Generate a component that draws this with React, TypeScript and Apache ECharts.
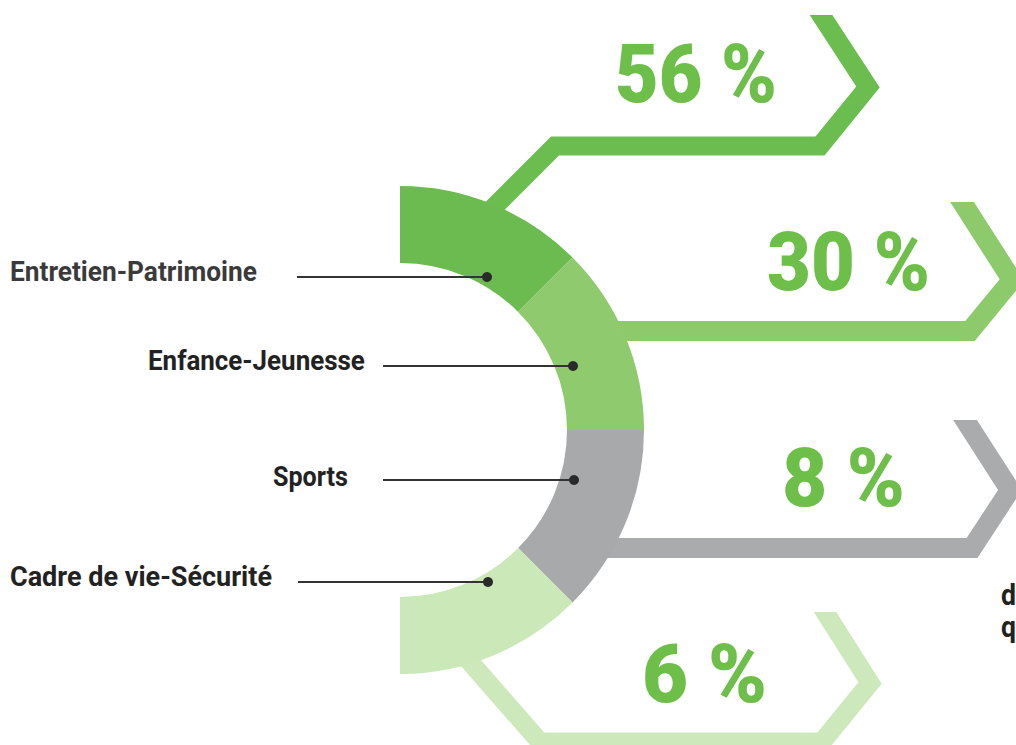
import React, { useEffect, useRef } from "react";
import * as echarts from "echarts";

// ---- data ----
const categories = ["Entretien-Patrimoine", "Enfance-Jeunesse", "Sports", "Cadre de vie-Sécurité"];
const percentValues = [56, 30, 8, 6];
// the half ring is split into four equal arcs in the picture
const arcShares = [25, 25, 25, 25];
const sideTexts = ["d", "q"];

// ---- styles ----
const segColors = ["#6cbb50", "#8fcb6e", "#a8a9ab", "#cbe8b9"];
const chevronColors = ["#6cbd4f", "#8dca6b", "#aaabad", "#cde9bb"];
const pctColor = "#6dbf4a";
const fam = "Roboto, 'Liberation Sans', 'DejaVu Sans', sans-serif";
const labelFont = `bold 28px ${fam}`;
const pctFont = `900 82px ${fam}`;
const sideFont = `bold 29px ${fam}`;

// ---- layout (decoration geometry) ----
const ringCenter = [400, 430];
const ringRadius = [167, 244];
const chevronPaths: number[][][] = [
  [[821, 15], [868, 87], [820, 146], [555, 146], [470, 231]],
  [[962, 202], [1012, 280], [970, 331], [560, 331]],
  [[965, 420], [1010, 490], [972, 548], [560, 548]],
  [[825, 612], [870, 683], [822, 742], [540, 742], [442, 630]],
];
const chevronHalfWidth = [9.5, 10, 10, 9.5];
const pctPos = [[615, 74], [767, 262], [782, 478], [642, 674]];
const pctWidth = [162, 163, 123, 125];
const labelPos = [[10, 272], [148, 361], [273, 476], [10, 576]];
const labelWidth = [247, 217, 75, 262];
const leaderLines = [
  [297, 277, 487, 277],
  [383, 366, 573, 366],
  [383, 480, 574, 480],
  [298, 582, 488, 582],
];
const sidePos = [[1001, 595], [1001, 627]];
const sideWidth = [15, 15];

type Pt = number[];
function bandPolygon(pts: Pt[], hw: number): Pt[] {
  const n = pts.length;
  const dir = (i: number) => {
    const [x1, y1] = pts[i];
    const [x2, y2] = pts[i + 1];
    const L = Math.hypot(x2 - x1, y2 - y1);
    return [(x2 - x1) / L, (y2 - y1) / L];
  };
  const off = (i: number, s: number) => {
    const [dx, dy] = dir(i);
    return { p: [pts[i][0] - dy * s * hw, pts[i][1] + dx * s * hw], d: [dx, dy] };
  };
  const inter = (a: { p: Pt; d: Pt }, b: { p: Pt; d: Pt }): Pt => {
    const den = a.d[0] * b.d[1] - a.d[1] * b.d[0];
    const t = ((b.p[0] - a.p[0]) * b.d[1] - (b.p[1] - a.p[1]) * b.d[0]) / den;
    return [a.p[0] + t * a.d[0], a.p[1] + t * a.d[1]];
  };
  const sides: Pt[][] = [];
  for (const s of [1, -1]) {
    const out: Pt[] = [];
    out.push(inter(off(0, s), { p: pts[0], d: [1, 0] }));
    for (let i = 1; i < n - 1; i++) out.push(inter(off(i - 1, s), off(i, s)));
    const [dx, dy] = dir(n - 2);
    out.push([pts[n - 1][0] - dy * s * hw, pts[n - 1][1] + dx * s * hw]);
    sides.push(out);
  }
  return sides[0].concat(sides[1].reverse());
}

let measureCtx: CanvasRenderingContext2D | null = null;
function fitScale(text: string, font: string, target: number): number {
  if (!measureCtx) measureCtx = document.createElement("canvas").getContext("2d");
  if (!measureCtx) return 1;
  measureCtx.font = font;
  const w = measureCtx.measureText(text).width;
  return w > 0 ? target / w : 1;
}

function textEl(text: string, x: number, y: number, font: string, fill: string, width: number) {
  return {
    type: "text",
    z: 5,
    x,
    y,
    scaleX: fitScale(text, font, width),
    style: {
      text,
      fill,
      font,
      textAlign: "left",
      align: "left",
      textVerticalAlign: "middle",
      verticalAlign: "middle",
    },
  };
}

export default function App() {
  const ref = useRef<HTMLDivElement>(null);
  useEffect(() => {
    if (!ref.current) return;
    const chart = echarts.init(ref.current, undefined, { renderer: "svg" });

    const graphics: any[] = [];
    chevronPaths.forEach((p, i) => {
      graphics.push({
        type: "polygon",
        z: 1,
        silent: true,
        shape: { points: bandPolygon(p, chevronHalfWidth[i]) },
        style: { fill: chevronColors[i] },
      });
    });
    percentValues.forEach((v, i) => {
      graphics.push(textEl(`${v} %`, pctPos[i][0], pctPos[i][1], pctFont, pctColor, pctWidth[i]));
    });
    categories.forEach((c, i) => {
      const [x1, y1, x2, y2] = leaderLines[i];
      graphics.push(
        textEl(c, labelPos[i][0], labelPos[i][1], labelFont, i === 0 ? "#3a3a3a" : "#222222", labelWidth[i])
      );
      graphics.push({
        type: "line",
        z: 10,
        shape: { x1, y1, x2, y2 },
        style: { stroke: "#333333", lineWidth: 2 },
      });
      graphics.push({
        type: "circle",
        z: 10,
        shape: { cx: x2, cy: y2, r: 5 },
        style: { fill: "#2a2a2a" },
      });
    });
    sideTexts.forEach((t, i) => {
      graphics.push(textEl(t, sidePos[i][0], sidePos[i][1], sideFont, "#222222", sideWidth[i]));
    });

    chart.setOption({
      animation: false,
      backgroundColor: "#ffffff",
      graphic: { elements: graphics },
      series: [
        {
          type: "pie",
          z: 2,
          silent: true,
          center: ringCenter,
          radius: ringRadius,
          startAngle: 90,
          endAngle: -90,
          clockwise: true,
          avoidLabelOverlap: false,
          label: { show: false },
          labelLine: { show: false },
          emphasis: { disabled: true },
          itemStyle: { borderWidth: 0 },
          data: categories.map((name, i) => ({
            name,
            value: arcShares[i],
            itemStyle: { color: segColors[i] },
          })),
        },
      ],
    });
    return () => chart.dispose();
  }, []);

  return (
    <div
      ref={ref}
      style={{ position: "absolute", left: 0, top: 0, width: 1016, height: 745, background: "#fff" }}
    />
  );
}
